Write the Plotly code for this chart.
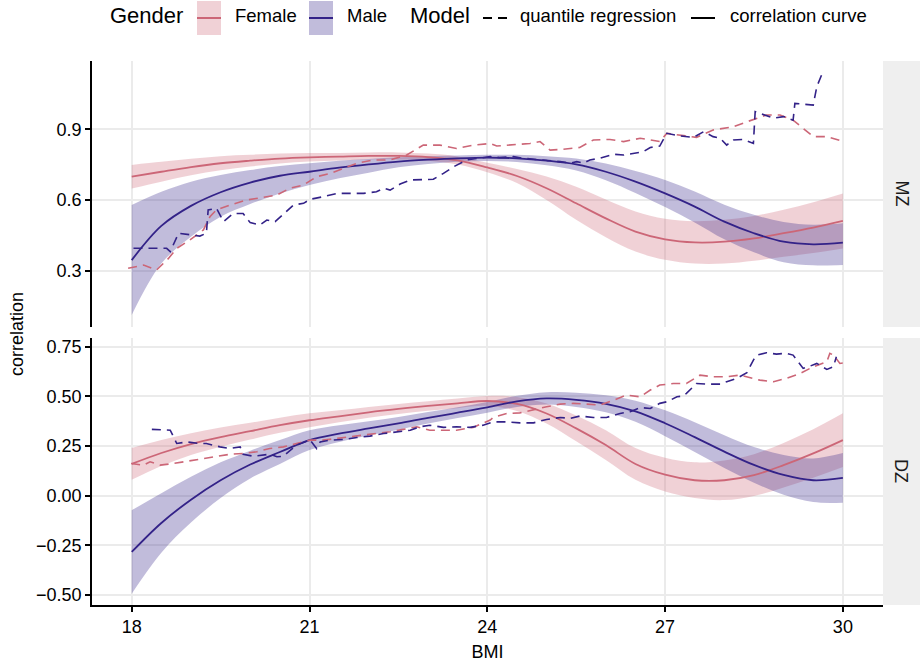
import plotly.graph_objects as go

# ---------------- data ----------------
BMI = [18.0, 18.5, 19.0, 19.5, 20.0, 20.5, 21.0, 21.5, 22.0, 22.5, 23.0, 23.5,
       24.0, 24.5, 25.0, 25.5, 26.0, 26.5, 27.0, 27.5, 28.0, 28.5, 29.0, 29.5, 30.0]

# MZ correlation curves with confidence bands
MZ_F_FIT = [0.699, 0.72, 0.74, 0.756, 0.767, 0.776, 0.781, 0.784, 0.787, 0.787, 0.782, 0.768,
            0.738, 0.702, 0.65, 0.586, 0.522, 0.466, 0.433, 0.42, 0.423, 0.437, 0.459, 0.483, 0.511]
MZ_F_HI = [0.749, 0.762, 0.775, 0.786, 0.792, 0.797, 0.799, 0.800, 0.802, 0.802, 0.797, 0.785,
           0.758, 0.732, 0.700, 0.656, 0.602, 0.551, 0.520, 0.510, 0.516, 0.532, 0.559, 0.591, 0.628]
MZ_F_LO = [0.649, 0.678, 0.705, 0.726, 0.742, 0.755, 0.763, 0.768, 0.772, 0.772, 0.767, 0.751,
           0.718, 0.672, 0.600, 0.516, 0.442, 0.381, 0.346, 0.330, 0.330, 0.342, 0.359, 0.375, 0.394]

MZ_M_FIT = [0.345, 0.49, 0.575, 0.633, 0.674, 0.703, 0.72, 0.737, 0.751, 0.763, 0.771, 0.777,
            0.780, 0.777, 0.767, 0.751, 0.72, 0.678, 0.628, 0.572, 0.508, 0.459, 0.423, 0.412, 0.419]
MZ_M_HI = [0.579, 0.635, 0.678, 0.706, 0.727, 0.744, 0.756, 0.767, 0.774, 0.781, 0.786, 0.789,
           0.792, 0.792, 0.786, 0.776, 0.755, 0.723, 0.685, 0.636, 0.580, 0.537, 0.507, 0.495, 0.501]
MZ_M_LO = [0.112, 0.330, 0.444, 0.529, 0.583, 0.628, 0.664, 0.692, 0.716, 0.739, 0.753, 0.762,
           0.766, 0.761, 0.747, 0.725, 0.684, 0.630, 0.570, 0.505, 0.433, 0.378, 0.336, 0.323, 0.324]

# DZ correlation curves with confidence bands
DZ_F_FIT = [0.16, 0.215, 0.26, 0.295, 0.325, 0.355, 0.38, 0.40, 0.42, 0.437, 0.452, 0.465,
            0.477, 0.462, 0.414, 0.339, 0.255, 0.16, 0.106, 0.078, 0.078, 0.104, 0.154, 0.213, 0.28]
DZ_F_HI = [0.24, 0.28, 0.315, 0.343, 0.367, 0.393, 0.415, 0.43, 0.447, 0.462, 0.476, 0.489,
           0.502, 0.497, 0.464, 0.404, 0.33, 0.24, 0.191, 0.168, 0.178, 0.209, 0.266, 0.335, 0.415]
DZ_F_LO = [0.08, 0.15, 0.205, 0.247, 0.283, 0.317, 0.345, 0.37, 0.393, 0.412, 0.428, 0.441,
           0.452, 0.427, 0.364, 0.274, 0.18, 0.08, 0.021, -0.012, -0.022, -0.001, 0.042, 0.091, 0.145]

DZ_M_FIT = [-0.283, -0.137, -0.02, 0.078, 0.157, 0.22, 0.28, 0.313, 0.339, 0.364, 0.392, 0.418,
            0.445, 0.475, 0.49, 0.483, 0.463, 0.425, 0.365, 0.295, 0.222, 0.155, 0.105, 0.078, 0.09]
DZ_M_HI = [-0.073, 0.013, 0.095, 0.168, 0.227, 0.28, 0.33, 0.355, 0.375, 0.396, 0.421, 0.445,
           0.472, 0.503, 0.521, 0.519, 0.506, 0.478, 0.43, 0.37, 0.305, 0.245, 0.205, 0.188, 0.215]
DZ_M_LO = [-0.493, -0.287, -0.135, -0.012, 0.087, 0.16, 0.23, 0.271, 0.303, 0.332, 0.363, 0.391,
           0.418, 0.447, 0.459, 0.447, 0.42, 0.372, 0.30, 0.22, 0.139, 0.065, 0.005, -0.032, -0.035]

# Quantile regression estimates
QR_MZ_F_X = [17.94, 18.20, 18.42, 18.62, 18.76, 18.98, 19.21, 19.32, 19.43, 19.66, 19.94, 20.22,
             20.45, 20.67, 20.90, 21.12, 21.35, 21.57, 21.80, 22.08, 22.36, 22.64, 22.92, 23.20,
             23.48, 23.76, 24.05, 24.16, 24.44, 24.72, 24.89, 25.06, 25.28, 25.56, 25.79, 26.07,
             26.30, 26.58, 26.75, 26.91, 27.03, 27.25, 27.53, 27.81, 28.15, 28.38, 28.71, 28.94,
             29.16, 29.33, 29.50, 29.73, 30.01]
QR_MZ_F_Y = [0.310, 0.324, 0.303, 0.352, 0.395, 0.430, 0.473, 0.529, 0.558, 0.579, 0.600, 0.611,
             0.621, 0.650, 0.664, 0.699, 0.713, 0.734, 0.756, 0.770, 0.770, 0.791, 0.833, 0.833,
             0.819, 0.833, 0.840, 0.829, 0.833, 0.840, 0.848, 0.812, 0.815, 0.823, 0.855, 0.857,
             0.848, 0.862, 0.855, 0.848, 0.883, 0.876, 0.866, 0.897, 0.911, 0.932, 0.961, 0.961,
             0.939, 0.904, 0.869, 0.869, 0.848]

QR_MZ_M_X = [18.03, 18.59, 18.65, 18.73, 18.79, 19.15, 19.26, 19.29, 19.43, 19.55, 19.71, 19.88,
             20.00, 20.16, 20.28, 20.42, 20.56, 20.73, 20.90, 21.01, 21.23, 21.46, 21.68, 21.91,
             22.13, 22.25, 22.36, 22.53, 22.70, 22.92, 23.09, 23.26, 23.43, 23.65, 23.88, 24.05,
             24.21, 24.44, 24.61, 24.78, 25.00, 25.23, 25.40, 25.51, 25.62, 25.73, 25.90, 26.13,
             26.30, 26.46, 26.63, 26.75, 26.91, 27.03, 27.25, 27.48, 27.65, 27.81, 27.93, 28.04,
             28.15, 28.32, 28.49, 28.52, 28.66, 28.83, 29.00, 29.16, 29.19, 29.39, 29.50, 29.56, 29.64]
QR_MZ_M_Y = [0.395, 0.395, 0.381, 0.423, 0.459, 0.447, 0.459, 0.558, 0.565, 0.508, 0.543, 0.543,
             0.504, 0.494, 0.515, 0.508, 0.541, 0.579, 0.586, 0.603, 0.614, 0.628, 0.628, 0.628,
             0.635, 0.650, 0.642, 0.668, 0.685, 0.688, 0.688, 0.713, 0.741, 0.770, 0.777, 0.784,
             0.780, 0.784, 0.777, 0.773, 0.770, 0.763, 0.756, 0.763, 0.756, 0.770, 0.777, 0.794,
             0.791, 0.798, 0.805, 0.823, 0.829, 0.883, 0.872, 0.866, 0.890, 0.869, 0.862, 0.833,
             0.855, 0.857, 0.840, 0.975, 0.961, 0.947, 0.954, 0.939, 1.010, 1.006, 1.003, 1.081, 1.130]

QR_DZ_F_X = [17.99, 18.20, 18.31, 18.48, 18.70, 18.98, 19.21, 19.43, 19.66, 19.88, 20.11, 20.33,
             20.56, 20.78, 21.01, 21.23, 21.46, 21.68, 21.91, 22.13, 22.36, 22.58, 22.81, 23.03,
             23.26, 23.48, 23.76, 24.05, 24.10, 24.33, 24.55, 24.78, 25.00, 25.23, 25.45, 25.68,
             25.90, 26.13, 26.35, 26.58, 26.75, 26.91, 27.14, 27.36, 27.59, 27.81, 28.04, 28.26,
             28.38, 28.60, 28.83, 29.05, 29.28, 29.50, 29.73, 29.78, 29.84, 29.95, 30.06]
QR_DZ_F_Y = [0.162, 0.154, 0.171, 0.154, 0.162, 0.176, 0.187, 0.199, 0.209, 0.213, 0.221, 0.238,
             0.246, 0.263, 0.280, 0.280, 0.288, 0.297, 0.305, 0.313, 0.322, 0.334, 0.347, 0.330,
             0.330, 0.330, 0.344, 0.381, 0.394, 0.414, 0.417, 0.434, 0.448, 0.461, 0.465, 0.461,
             0.456, 0.481, 0.507, 0.498, 0.532, 0.557, 0.565, 0.565, 0.607, 0.599, 0.599, 0.607,
             0.599, 0.582, 0.574, 0.591, 0.616, 0.649, 0.675, 0.717, 0.708, 0.666, 0.671]

QR_DZ_M_X = [18.34, 18.65, 18.76, 18.93, 19.15, 19.26, 19.49, 19.66, 19.83, 19.88, 20.05, 20.16,
             20.33, 20.45, 20.56, 20.78, 21.01, 21.12, 21.18, 21.35, 21.57, 21.80, 22.02, 22.25,
             22.47, 22.70, 22.86, 23.03, 23.26, 23.48, 23.71, 23.93, 24.10, 24.33, 24.55, 24.78,
             25.00, 25.23, 25.40, 25.56, 25.79, 26.01, 26.24, 26.41, 26.58, 26.75, 26.91, 27.03,
             27.20, 27.31, 27.36, 27.53, 27.70, 27.93, 28.04, 28.21, 28.38, 28.49, 28.55, 28.71,
             28.88, 29.05, 29.16, 29.28, 29.33, 29.45, 29.56, 29.73, 29.84, 29.89]
QR_DZ_M_Y = [0.334, 0.330, 0.263, 0.271, 0.263, 0.263, 0.246, 0.238, 0.246, 0.209, 0.199, 0.204,
             0.209, 0.196, 0.199, 0.255, 0.280, 0.238, 0.271, 0.280, 0.283, 0.293, 0.300, 0.313,
             0.322, 0.330, 0.347, 0.355, 0.344, 0.347, 0.344, 0.355, 0.372, 0.372, 0.367, 0.367,
             0.384, 0.394, 0.389, 0.401, 0.394, 0.394, 0.414, 0.423, 0.444, 0.439, 0.465, 0.473,
             0.498, 0.502, 0.515, 0.565, 0.562, 0.562, 0.574, 0.591, 0.619, 0.683, 0.708, 0.720,
             0.713, 0.717, 0.708, 0.658, 0.641, 0.653, 0.666, 0.636, 0.649, 0.700]

X_TICKS = [18, 21, 24, 27, 30]
X_TICKTEXT = ["18", "21", "24", "27", "30"]
MZ_TICKS = [0.3, 0.6, 0.9]
MZ_TICKTEXT = ["0.3", "0.6", "0.9"]
DZ_TICKS = [-0.5, -0.25, 0.0, 0.25, 0.5, 0.75]
DZ_TICKTEXT = ["\u22120.50", "\u22120.25", "0.00", "0.25", "0.50", "0.75"]
PANELS = ["MZ", "DZ"]
GENDERS = ["Female", "Male"]
MODELS = ["quantile regression", "correlation curve"]

# ---------------- style ----------------
FEMALE_COLOR = "#CC6677"
MALE_COLOR = "#332288"
FEMALE_FILL = "rgba(204,102,119,0.30)"
MALE_FILL = "rgba(51,34,136,0.30)"
GRID = "#EBEBEB"
STRIP = "#EFEFEF"
FONT = "Liberation Sans, Arial, sans-serif"
DASH = "9px,6px"

# plot area in pixels: left 92, right 883, top 61, bottom 605
L, R, T, B = 92, 883, 61, 605
W, H = 920, 662


def pxx(p):
    return (p - L) / (R - L)


def pxy(p):
    return (B - p) / (B - T)


TOP_DOMAIN = [pxy(327), 1.0]
BOT_DOMAIN = [0.0, pxy(338)]

fig = go.Figure()

panel_data = [
    dict(xa="x", ya="y",
         bands=[(MZ_F_LO, MZ_F_HI, FEMALE_FILL), (MZ_M_LO, MZ_M_HI, MALE_FILL)],
         fits=[(MZ_F_FIT, FEMALE_COLOR), (MZ_M_FIT, MALE_COLOR)],
         qrs=[(QR_MZ_F_X, QR_MZ_F_Y, FEMALE_COLOR), (QR_MZ_M_X, QR_MZ_M_Y, MALE_COLOR)]),
    dict(xa="x2", ya="y2",
         bands=[(DZ_F_LO, DZ_F_HI, FEMALE_FILL), (DZ_M_LO, DZ_M_HI, MALE_FILL)],
         fits=[(DZ_F_FIT, FEMALE_COLOR), (DZ_M_FIT, MALE_COLOR)],
         qrs=[(QR_DZ_F_X, QR_DZ_F_Y, FEMALE_COLOR), (QR_DZ_M_X, QR_DZ_M_Y, MALE_COLOR)]),
]

for p in panel_data:
    for lo, hi, fill in p["bands"]:
        fig.add_trace(go.Scatter(x=BMI, y=lo, mode="lines",
                                 line=dict(width=0, shape="spline", smoothing=1),
                                 xaxis=p["xa"], yaxis=p["ya"], showlegend=False, hoverinfo="skip"))
        fig.add_trace(go.Scatter(x=BMI, y=hi, mode="lines",
                                 line=dict(width=0, shape="spline", smoothing=1),
                                 fill="tonexty", fillcolor=fill,
                                 xaxis=p["xa"], yaxis=p["ya"], showlegend=False, hoverinfo="skip"))
    for fit, color in p["fits"]:
        fig.add_trace(go.Scatter(x=BMI, y=fit, mode="lines",
                                 line=dict(color=color, width=1.8, shape="spline", smoothing=1),
                                 xaxis=p["xa"], yaxis=p["ya"], showlegend=False))
    for qx, qy, color in p["qrs"]:
        fig.add_trace(go.Scatter(x=qx, y=qy, mode="lines",
                                 line=dict(color=color, width=1.6, dash=DASH),
                                 xaxis=p["xa"], yaxis=p["ya"], showlegend=False))

X_RANGE = [17.33, 30.677]

common_y = dict(ticks="outside", ticklen=5, tickwidth=1.5, tickcolor="black",
                showline=True, linecolor="black", linewidth=1.6,
                showgrid=True, gridcolor=GRID, gridwidth=1.6, zeroline=False,
                automargin=False, tickfont=dict(size=18, color="black"))

fig.update_layout(
    width=W, height=H,
    margin=dict(l=L, r=W - R, t=T, b=H - B, autoexpand=False),
    paper_bgcolor="white", plot_bgcolor="white",
    showlegend=False,
    font=dict(family=FONT, size=18, color="black"),
    xaxis=dict(domain=[0, 1], anchor="y", range=X_RANGE, tickvals=X_TICKS,
               showticklabels=False, ticks="", showline=False, automargin=False,
               showgrid=True, gridcolor=GRID, gridwidth=1.6, zeroline=False),
    xaxis2=dict(domain=[0, 1], anchor="y2", range=X_RANGE, tickvals=X_TICKS, ticktext=X_TICKTEXT,
                ticks="outside", ticklen=5, tickwidth=1.5, tickcolor="black",
                showline=True, linecolor="black", linewidth=1.6, automargin=False,
                showgrid=True, gridcolor=GRID, gridwidth=1.6, zeroline=False,
                tickfont=dict(size=18, color="black"),
                title=dict(text="BMI", standoff=10, font=dict(size=18, color="black"))),
    yaxis=dict(domain=TOP_DOMAIN, anchor="x", range=[0.061, 1.19],
               tickvals=MZ_TICKS, ticktext=MZ_TICKTEXT, **common_y),
    yaxis2=dict(domain=BOT_DOMAIN, anchor="x2", range=[-0.55, 0.794],
                tickvals=DZ_TICKS, ticktext=DZ_TICKTEXT, **common_y),
)

shapes = []
annotations = []

# facet strips on the right
strip_x1 = pxx(W)
for name, dom in zip(PANELS, [TOP_DOMAIN, BOT_DOMAIN]):
    shapes.append(dict(type="rect", xref="paper", yref="paper", x0=1.0, x1=strip_x1,
                       y0=dom[0], y1=dom[1], fillcolor=STRIP, line=dict(width=0), layer="below"))
    annotations.append(dict(text=name, xref="paper", yref="paper", x=(1.0 + strip_x1) / 2,
                            y=(dom[0] + dom[1]) / 2, textangle=90, showarrow=False,
                            xanchor="center", yanchor="middle",
                            font=dict(size=18, color="#1a1a1a")))

# y axis title
annotations.append(dict(text="correlation", xref="paper", yref="paper", x=pxx(17), y=pxy(334),
                        textangle=-90, showarrow=False, xanchor="center", yanchor="middle",
                        font=dict(size=18, color="black")))

# legend (drawn to match ggplot's top legend)
KEY_Y0, KEY_Y1, KEY_MID, TEXT_Y = 1, 35, 18, 16
annotations.append(dict(text="Gender", xref="paper", yref="paper", x=pxx(108), y=pxy(TEXT_Y),
                        showarrow=False, xanchor="left", yanchor="middle",
                        font=dict(size=22, color="black")))
for label, kx, tx, color, fill in [(GENDERS[0], 197, 233, FEMALE_COLOR, FEMALE_FILL),
                                    (GENDERS[1], 309, 345, MALE_COLOR, MALE_FILL)]:
    shapes.append(dict(type="rect", xref="paper", yref="paper", x0=pxx(kx), x1=pxx(kx + 24),
                       y0=pxy(KEY_Y1), y1=pxy(KEY_Y0), fillcolor=fill, line=dict(width=0)))
    shapes.append(dict(type="line", xref="paper", yref="paper", x0=pxx(kx), x1=pxx(kx + 24),
                       y0=pxy(KEY_MID), y1=pxy(KEY_MID), line=dict(color=color, width=2)))
    annotations.append(dict(text=label, xref="paper", yref="paper", x=pxx(tx), y=pxy(TEXT_Y),
                            showarrow=False, xanchor="left", yanchor="middle",
                            font=dict(size=18.5, color="black")))
annotations.append(dict(text="Model", xref="paper", yref="paper", x=pxx(408), y=pxy(TEXT_Y),
                        showarrow=False, xanchor="left", yanchor="middle",
                        font=dict(size=22, color="black")))
for label, kx, tx, dash in [(MODELS[0], 483, 518, DASH), (MODELS[1], 691, 728, "solid")]:
    shapes.append(dict(type="line", xref="paper", yref="paper", x0=pxx(kx), x1=pxx(kx + 24),
                       y0=pxy(KEY_MID), y1=pxy(KEY_MID), line=dict(color="black", width=2, dash=dash)))
    annotations.append(dict(text=label, xref="paper", yref="paper", x=pxx(tx), y=pxy(TEXT_Y),
                            showarrow=False, xanchor="left", yanchor="middle",
                            font=dict(size=18.5, color="black")))

fig.update_layout(shapes=shapes, annotations=annotations)

fig.write_html("out.html")
